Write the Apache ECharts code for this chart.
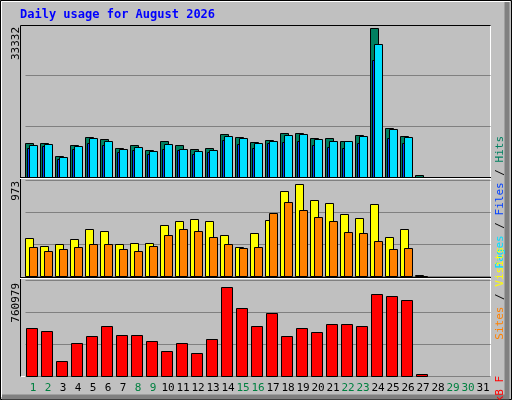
<!DOCTYPE html>
<html><head><meta charset="utf-8">
<script src="https://cdn.jsdelivr.net/npm/echarts@6/dist/echarts.min.js"></script>
<style>html,body{margin:0;padding:0;background:#c0c0c0}#c{width:512px;height:400px}</style>
</head><body><div id="c"></div>
<script>
const days = ['1','2','3','4','5','6','7','8','9','10','11','12','13','14','15','16','17','18','19','20','21','22','23','24','25','26','27','28','29','30','31'];
const weekend = ['1','2','8','9','15','16','22','23','29','30'];
const hits  = [7504,7504,4635,7062,9049,8607,6400,7062,5959,7945,7062,6180,6400,9711,9049,7725,8387,9932,9932,8828,8828,8166,9490,33332,11035,9269,441];
const files = [7062,7283,4414,6842,8828,8166,6180,6621,5738,7283,6180,5738,5959,9269,8828,7504,7945,9490,9711,8607,7945,7945,9269,29795,10814,9049,0];
const pages = [6400,6842,3973,6180,7504,7062,5518,5959,5076,6180,5959,5076,5518,8387,7283,6400,7504,7725,7945,7062,6621,6400,7504,26264,8828,7504,0];
const sites = [382,304,321,372,473,453,321,331,331,513,554,574,554,412,291,432,564,858,929,767,736,625,584,726,392,473,10];
const visits= [291,250,270,291,321,321,270,250,301,412,473,453,392,321,280,291,635,747,665,595,554,443,432,351,270,280,0];
const kbytes= [411000,386000,128000,286000,344000,428000,353000,353000,303000,219000,286000,194000,319000,760979,586000,428000,544000,344000,411000,378000,444000,444000,428000,703000,686000,653000,17000];
const maxLabels = ['33332','973','760979'];

const F = 'DejaVu Sans Mono';
function mk(o0,o1,color){
  return function(params, api){
    const p = api.coord([api.value(0), api.value(1)]);
    const b = api.coord([api.value(0), 0]);
    return {type:'rect', shape:{x:Math.round(p[0]+o0)+0.5, y:Math.round(p[1])+0.5, width:o1-o0, height:Math.max(1,Math.round(b[1]-p[1]))},
      style:{fill:color, stroke:'#000', lineWidth:1}};
  };
}
const pts = a => a.map((v,i)=>[i,v]);
const L = 25.5, W = 465;
const grids = [{left:L, width:W, top:25, height:152},{left:L, width:W, top:180, height:96},{left:L, width:W, top:280, height:96}];
const ymax = [34008, 973, 824800];
const xAxis = grids.map((g,i)=>({gridIndex:i, type:'category', data:days, boundaryGap:true,
  axisLine:{show:false}, axisTick:{show:false},
  axisLabel:{show:i===2, interval:0, margin:7, fontFamily:F, fontSize:11,
    color: (v)=> weekend.includes(v) ? '#008040' : '#000'}}));
const yAxis = ymax.map((m,i)=>({gridIndex:i, type:'value', min:0, max:m, interval:m/3,
  axisLabel:{show:false}, axisLine:{show:false}, axisTick:{show:false},
  splitLine:{show:true, lineStyle:{color:'#808080', width:1}}}));
const series = [
  {type:'custom', xAxisIndex:0, yAxisIndex:0, data:pts(hits), renderItem:mk(-8,0,'#008060')},
  {type:'custom', xAxisIndex:0, yAxisIndex:0, data:pts(pages), renderItem:mk(-6,-3,'#0040ff')},
  {type:'custom', xAxisIndex:0, yAxisIndex:0, data:pts(files), renderItem:mk(-4,4,'#00e0ff')},
  {type:'custom', xAxisIndex:1, yAxisIndex:1, data:pts(sites), renderItem:mk(-8,0,'#ffff00')},
  {type:'custom', xAxisIndex:1, yAxisIndex:1, data:pts(visits), renderItem:mk(-4,4,'#ff8000')},
  {type:'custom', xAxisIndex:2, yAxisIndex:2, data:pts(kbytes), renderItem:mk(-7,4,'#ff0000')}
];
const vt = (x,y,rich,text)=>({type:'text', x:x, y:y, rotation:Math.PI/2, z:10,
  style:{text:text, rich:rich, font:'11px '+F, align:'right', verticalAlign:'middle'}});
const graphic = [
  {type:'rect', z:-10, shape:{x:0.5,y:0.5,width:511,height:399}, style:{fill:'#c0c0c0', stroke:'#000'}},
  {type:'polyline', z:-9, shape:{points:[[507,2],[507,397],[2,397]]}, style:{stroke:'#808080', lineWidth:5, fill:null}},
  {type:'polyline', z:-9, shape:{points:[[1.5,397],[1.5,1.5],[510,1.5]]}, style:{stroke:'#fff', lineWidth:1, fill:null}},
  {type:'rect', z:-8, shape:{x:20.5,y:25.5,width:470,height:351}, style:{fill:'#c0c0c0', stroke:'#fff'}},
  {type:'polyline', z:5, shape:{points:[[20.5,376.5],[20.5,25.5],[490.5,25.5]]}, style:{stroke:'#000', fill:null}},
  {type:'line', z:5, shape:{x1:20,y1:178.5,x2:491,y2:178.5}, style:{stroke:'#fff'}},
  {type:'line', z:5, shape:{x1:20,y1:177.5,x2:491,y2:177.5}, style:{stroke:'#000'}},
  {type:'line', z:5, shape:{x1:20,y1:278.5,x2:491,y2:278.5}, style:{stroke:'#fff'}},
  {type:'line', z:5, shape:{x1:20,y1:277.5,x2:491,y2:277.5}, style:{stroke:'#000'}},
  {type:'text', x:20, y:9, style:{text:'Daily usage for August 2026', font:'bold 12px '+F, fill:'#0000ff'}},
  {type:'text', x:16, y:27, rotation:Math.PI/2, style:{text:maxLabels[0], font:'11px '+F, fill:'#000', align:'right', verticalAlign:'middle'}},
  {type:'text', x:16, y:181, rotation:Math.PI/2, style:{text:maxLabels[1], font:'11px '+F, fill:'#000', align:'right', verticalAlign:'middle'}},
  {type:'text', x:16, y:283, rotation:Math.PI/2, style:{text:maxLabels[2], font:'11px '+F, fill:'#000', align:'right', verticalAlign:'middle'}},
  vt(500,136,{p:{fill:'#00e0ff'},f:{fill:'#0040ff'},h:{fill:'#008060'},s:{fill:'#000'}},'{p|Pages}{s| / }{f|Files}{s| / }{h|Hits}'),
  vt(500,247,{v:{fill:'#ff8000'},s:{fill:'#ffff00'},k:{fill:'#000'}},'{v|Sites}{k| / }{s|Visits}'),
  vt(500,376,{r:{fill:'#ff0000'}},'{r|kB F}')
];
const chart = echarts.init(document.getElementById('c'));
chart.setOption({animation:false, backgroundColor:'#c0c0c0', grid:grids, xAxis:xAxis, yAxis:yAxis, series:series, graphic:graphic});
</script></body></html>
